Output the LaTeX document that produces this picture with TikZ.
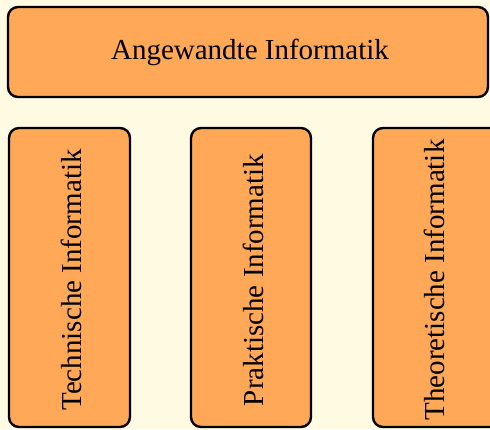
\documentclass[tikz,border=0pt]{standalone}
\usepackage{fontspec}
\setmainfont{Liberation Serif}
\begin{document}
\begin{tikzpicture}[x=1pt,y=-1pt,
  boxstyle/.style={draw=black, line width=2.4pt, fill=boxfill, rounded corners=10pt},
  labelstyle/.style={font=\fontsize{29}{32}\selectfont, text=black}]
\definecolor{bgcream}{HTML}{FFFBE2}
\definecolor{boxfill}{HTML}{FFA857}
\useasboundingbox (0,0) rectangle (490,429);
\clip (0,0) rectangle (490,429);
\fill[bgcream] (0,0) rectangle (490,429);
\draw[boxstyle] (8,7) rectangle (488,97);
\node[labelstyle] (top) at (250,52) {Angewandte Informatik};
\draw[boxstyle] (9,128) rectangle (130,427);
\draw[boxstyle] (191,128) rectangle (311,427);
\draw[boxstyle] (373,128) rectangle (500,427);
\node[labelstyle, rotate=90] (tech) at (71,280) {Technische Informatik};
\node[labelstyle, rotate=90] (prak) at (253,280) {Praktische Informatik};
\node[labelstyle, rotate=90] (theo) at (434,280) {Theoretische Informatik};
\end{tikzpicture}
\end{document}
